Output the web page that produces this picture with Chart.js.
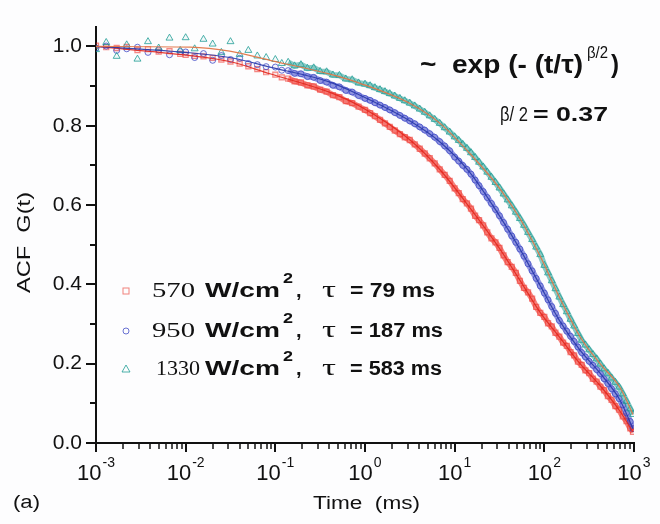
<!DOCTYPE html>
<html>
<head>
<meta charset="utf-8">
<title>ACF G(t)</title>
<script src="https://cdn.jsdelivr.net/npm/chart.js@4.4.0/dist/chart.umd.min.js"></script>
<style>
  html, body { margin: 0; padding: 0; background: #fdfdfe; }
  #wrap { width: 660px; height: 524px; position: relative; }
</style>
</head>
<body>
<div id="wrap"><canvas id="acf"></canvas></div>
<script>
// lag times (ms), shared by all three measurements
const lagTimes = [
  0.001, 0.0013, 0.0017, 0.0022, 0.0029, 0.0038, 0.005, 0.0066, 0.0087,
  0.010, 0.0126, 0.0158, 0.020, 0.025, 0.0316, 0.040, 0.050, 0.063, 0.079,
  0.10, 0.118, 0.139, 0.164, 0.193, 0.228, 0.268, 0.316, 0.373, 0.439, 0.518, 0.611, 0.720, 0.848,
  1.00, 1.14, 1.29, 1.47, 1.67, 1.89, 2.15, 2.45, 2.78, 3.16, 3.59, 4.08, 4.64, 5.27, 5.99, 6.81, 7.74, 8.80,
  10.0, 11.1, 12.3, 13.7, 15.2, 16.9, 18.7, 20.8, 23.1, 25.7, 28.5, 31.6, 35.1, 39.0, 43.3, 48.1, 53.4, 59.3, 65.8, 73.1, 81.1, 90.1,
  100, 110, 121, 133, 147, 162, 178, 196, 215, 237, 261, 287, 316, 348, 383, 422, 464, 511, 562, 619, 681, 750, 825, 908, 975
];

// G(t) at 570 W/cm2
const g570 = [
  1.002, 0.998, 0.996, 0.999, 0.991, 0.993, 0.987, 0.988, 0.981,
  0.979, 0.976, 0.975, 0.971, 0.967, 0.962, 0.957, 0.950, 0.943, 0.935,
  0.929, 0.922, 0.919, 0.912, 0.909, 0.902, 0.899, 0.891, 0.886, 0.877, 0.872, 0.862, 0.857, 0.848,
  0.840, 0.832, 0.824, 0.815, 0.806, 0.797, 0.788, 0.779, 0.771, 0.764, 0.753, 0.742, 0.730, 0.718, 0.705, 0.690, 0.676, 0.661,
  0.642, 0.630, 0.615, 0.604, 0.591, 0.573, 0.562, 0.549, 0.531, 0.516, 0.506, 0.492, 0.473, 0.456, 0.444, 0.429, 0.409, 0.391, 0.380, 0.364, 0.343, 0.328,
  0.318, 0.302, 0.294, 0.278, 0.268, 0.253, 0.245, 0.229, 0.221, 0.205, 0.197, 0.183, 0.176, 0.162, 0.155, 0.142, 0.133, 0.118, 0.109, 0.093, 0.084, 0.067, 0.055, 0.037, 0.028
];

// G(t) at 950 W/cm2
const g950 = [
  0.996, 1.001, 0.990, 0.994, 0.998, 0.985, 0.991, 0.979, 0.987,
  0.986, 0.972, 0.982, 0.965, 0.977, 0.967, 0.970, 0.957, 0.954, 0.949,
  0.948, 0.940, 0.939, 0.932, 0.931, 0.924, 0.922, 0.914, 0.910, 0.902, 0.898, 0.889, 0.885, 0.876,
  0.869, 0.864, 0.858, 0.852, 0.846, 0.840, 0.833, 0.826, 0.819, 0.812, 0.805, 0.797, 0.789, 0.780, 0.771, 0.760, 0.749, 0.737,
  0.721, 0.711, 0.700, 0.690, 0.678, 0.663, 0.649, 0.634, 0.619, 0.604, 0.589, 0.573, 0.556, 0.539, 0.522, 0.506, 0.489, 0.471, 0.452, 0.434, 0.415, 0.396,
  0.378, 0.361, 0.344, 0.327, 0.309, 0.295, 0.282, 0.269, 0.256, 0.242, 0.228, 0.217, 0.206, 0.196, 0.185, 0.175, 0.162, 0.150, 0.137, 0.124, 0.112, 0.096, 0.076, 0.054, 0.036
];

// G(t) at 1330 W/cm2
const g1330 = [
  0.992, 1.010, 0.975, 1.004, 0.968, 1.012, 0.996, 1.021, 0.990,
  1.022, 0.994, 1.018, 1.006, 0.985, 1.012, 0.980, 0.990, 0.976, 0.972,
  0.967, 0.957, 0.960, 0.951, 0.954, 0.945, 0.946, 0.937, 0.936, 0.928, 0.927, 0.918, 0.916, 0.908,
  0.905, 0.901, 0.896, 0.891, 0.886, 0.881, 0.875, 0.869, 0.863, 0.857, 0.850, 0.842, 0.834, 0.825, 0.816, 0.806, 0.795, 0.784,
  0.772, 0.763, 0.753, 0.743, 0.732, 0.720, 0.708, 0.696, 0.683, 0.670, 0.657, 0.643, 0.628, 0.613, 0.598, 0.582, 0.566, 0.549, 0.531, 0.513, 0.494, 0.475,
  0.448, 0.429, 0.409, 0.389, 0.368, 0.349, 0.331, 0.312, 0.295, 0.276, 0.259, 0.247, 0.235, 0.223, 0.212, 0.199, 0.187, 0.176, 0.164, 0.153, 0.141, 0.124, 0.105, 0.086, 0.072
];

// stretched-exponential fit curves
const fitTimes = [0.001, 0.0112, 0.031, 0.087, 0.407, 0.88, 3.18, 6.86, 14.8, 32, 53.5, 89.4, 150, 250, 418, 698, 975];
const fit570 = [1.0, 0.977, 0.962, 0.931, 0.884, 0.849, 0.764, 0.689, 0.593, 0.489, 0.410, 0.330, 0.265, 0.200, 0.145, 0.080, 0.027];
const fit950 = [1.0, 0.984, 0.972, 0.948, 0.910, 0.877, 0.812, 0.759, 0.682, 0.571, 0.489, 0.398, 0.306, 0.234, 0.176, 0.108, 0.036];
const fit1330 = [1.0, 0.998, 0.988, 0.965, 0.930, 0.907, 0.856, 0.806, 0.730, 0.641, 0.566, 0.472, 0.364, 0.268, 0.200, 0.140, 0.072];

// legend / axis text
const powerLabels = ['570', '950', '1330'];
const tauLabels = ['= 79 ms', '= 187 ms', '= 583 ms'];
const decadeExponents = [-3, -2, -1, 0, 1, 2, 3];
const yMajorTicks = [0, 0.2, 0.4, 0.6, 0.8, 1.0];

const SANS = '"Liberation Sans", Arial, sans-serif';
const SERIF = '"Liberation Serif", "Times New Roman", serif';
const INK = '#111';

const RED = 'rgba(236, 48, 40, 0.55)';
const BLUE = 'rgba(58, 68, 196, 0.75)';
const TEAL = 'rgba(32, 158, 150, 0.8)';

function pts(xs, ys) {
  return xs.map((x, i) => ({ x: x, y: ys[i] }));
}

// dense region of each series shows as a continuous band
function bandSegment(color) {
  return {
    borderColor: ctx => (lagTimes[ctx.p0DataIndex] < 0.12 ? 'rgba(0,0,0,0)' : color)
  };
}

// draws text stretched/squeezed to a given width
function fitText(ctx, str, x, y, w, font) {
  ctx.font = font;
  const m = ctx.measureText(str).width;
  ctx.save();
  ctx.translate(x, y);
  ctx.scale(w / m, 1);
  ctx.fillText(str, 0, 0);
  ctx.restore();
}

function tick(ctx, x1, y1, x2, y2) {
  ctx.beginPath();
  ctx.moveTo(x1, y1);
  ctx.lineTo(x2, y2);
  ctx.stroke();
}

const decorations = {
  id: 'decorations',
  afterDraw(chart) {
    const ctx = chart.ctx;
    const xs = chart.scales.x;
    const ys = chart.scales.y;
    const area = chart.chartArea;

    ctx.save();
    ctx.strokeStyle = INK;
    ctx.fillStyle = INK;
    ctx.lineWidth = 2;
    ctx.textAlign = 'left';
    ctx.textBaseline = 'alphabetic';

    // y ticks, major every 0.2 and minor in between
    for (let i = 0; i <= 10; i++) {
      const py = Math.round(ys.getPixelForValue(i / 10));
      const len = i % 2 === 0 ? 10 : 6;
      tick(ctx, area.left - len, py, area.left, py);
    }

    // x ticks, decades plus 2..9 minors
    decadeExponents.forEach((e, k) => {
      const base = Math.pow(10, e);
      const px = Math.round(xs.getPixelForValue(base));
      tick(ctx, px, area.bottom, px, area.bottom + 9);
      if (k < decadeExponents.length - 1) {
        ctx.lineWidth = 1.5;
        for (let m = 2; m <= 9; m++) {
          const mx = Math.round(xs.getPixelForValue(m * base));
          tick(ctx, mx, area.bottom, mx, area.bottom + 6);
        }
        ctx.lineWidth = 2;
      }
    });

    // x tick labels as 10 with a raised exponent
    decadeExponents.forEach(e => {
      const px = xs.getPixelForValue(Math.pow(10, e));
      const sup = String(e);
      ctx.font = '22px ' + SANS;
      const w1 = ctx.measureText('10').width;
      ctx.font = '14px ' + SANS;
      const w2 = ctx.measureText(sup).width;
      const x0 = px - (w1 + w2 + 1) / 2;
      ctx.font = '22px ' + SANS;
      ctx.fillText('10', x0, 480);
      ctx.font = '14px ' + SANS;
      ctx.fillText(sup, x0 + w1 + 1, 467);
    });

    // axis titles
    fitText(ctx, 'Time  (ms)', 313, 509, 107, '18px ' + SANS);
    fitText(ctx, '(a)', 13, 508, 27, '18px ' + SANS);
    ctx.save();
    ctx.translate(30, 293);
    ctx.rotate(-Math.PI / 2);
    fitText(ctx, 'ACF  G(t)', 0, 0, 101, '18px ' + SANS);
    ctx.restore();

    // fit formula
    fitText(ctx, '~  exp (- (t/\u03c4)', 420, 73, 163, 'bold 25px ' + SANS);
    fitText(ctx, '\u03b2/2', 587, 58, 21, '16px ' + SANS);
    fitText(ctx, ')', 611, 73, 8, 'bold 25px ' + SANS);
    fitText(ctx, '\u03b2/ 2', 500, 121, 28, '21px ' + SANS);
    fitText(ctx, '= 0.37', 533, 121, 75, 'bold 21px ' + SANS);

    // legend rows
    const rowY = [297, 337, 375];
    const tauW = [85, 93, 92];
    rowY.forEach((y, i) => {
      const my = y - 6;
      ctx.lineWidth = 1;
      if (i === 0) {
        ctx.strokeStyle = 'rgba(236, 90, 80, 0.75)';
        ctx.strokeRect(123, my - 3, 6, 6);
      } else if (i === 1) {
        ctx.strokeStyle = BLUE;
        ctx.beginPath();
        ctx.arc(126, my, 3, 0, Math.PI * 2);
        ctx.stroke();
      } else {
        ctx.strokeStyle = TEAL;
        ctx.beginPath();
        ctx.moveTo(126, my - 4);
        ctx.lineTo(130, my + 3);
        ctx.lineTo(122, my + 3);
        ctx.closePath();
        ctx.stroke();
      }
      const pw = powerLabels[i].length > 3 ? 44 : 43;
      const px = powerLabels[i].length > 3 ? 156 : 152;
      fitText(ctx, powerLabels[i], px, y, pw, '21px ' + SERIF);
      fitText(ctx, 'W/cm', 205, y, 75, 'bold 20px ' + SANS);
      fitText(ctx, '2', 283, y - 14, 10, 'bold 15px ' + SANS);
      ctx.font = 'bold 20px ' + SANS;
      ctx.fillText(',', 296, y);
      fitText(ctx, '\u03c4', 322, y, 14, '23px ' + SERIF);
      fitText(ctx, tauLabels[i], 350, y, tauW[i], 'bold 20px ' + SANS);
    });

    ctx.restore();
  }
};

new Chart(document.getElementById('acf'), {
  type: 'line',
  data: {
    datasets: [
      {
        label: 'fit 1330',
        data: pts(fitTimes, fit1330),
        borderColor: 'rgba(226, 118, 72, 0.95)',
        borderWidth: 1.2,
        pointRadius: 0,
        cubicInterpolationMode: 'monotone',
        fill: false
      },
      {
        label: 'fit 950',
        data: pts(fitTimes, fit950),
        borderColor: 'rgba(40, 56, 170, 0.9)',
        borderWidth: 1.2,
        pointRadius: 0,
        cubicInterpolationMode: 'monotone',
        fill: false
      },
      {
        label: 'fit 570',
        data: pts(fitTimes, fit570),
        borderColor: 'rgba(226, 40, 30, 0.9)',
        borderWidth: 1.2,
        pointRadius: 0,
        cubicInterpolationMode: 'monotone',
        fill: false
      },
      {
        label: '1330 W/cm2',
        data: pts(lagTimes, g1330),
        showLine: true,
        borderWidth: 6,
        segment: bandSegment('rgba(40, 160, 150, 0.55)'),
        pointStyle: 'triangle',
        pointRadius: 4,
        pointBorderWidth: 1,
        pointBorderColor: TEAL,
        pointBackgroundColor: 'rgba(32, 158, 150, 0.05)'
      },
      {
        label: '950 W/cm2',
        data: pts(lagTimes, g950),
        showLine: true,
        borderWidth: 6,
        segment: bandSegment('rgba(60, 70, 200, 0.55)'),
        pointStyle: 'circle',
        pointRadius: 3,
        pointBorderWidth: 1,
        pointBorderColor: BLUE,
        pointBackgroundColor: 'rgba(58, 68, 196, 0.05)'
      },
      {
        label: '570 W/cm2',
        data: pts(lagTimes, g570),
        showLine: true,
        borderWidth: 6,
        segment: bandSegment('rgba(240, 50, 40, 0.6)'),
        pointStyle: 'rect',
        pointRadius: 3.6,
        pointBorderWidth: 1.2,
        pointBorderColor: RED,
        pointBackgroundColor: 'rgba(236, 48, 40, 0.12)'
      }
    ]
  },
  options: {
    responsive: true,
    maintainAspectRatio: false,
    animation: false,
    events: [],
    layout: { padding: { top: 7, right: 26, left: 0, bottom: 0 } },
    plugins: {
      legend: { display: false },
      tooltip: { enabled: false }
    },
    scales: {
      x: {
        type: 'logarithmic',
        min: 0.001,
        max: 1000,
        grid: { display: false, drawTicks: false },
        border: { display: true, color: INK, width: 2 },
        ticks: { callback: () => '' },
        afterFit: s => { s.height = 81; }
      },
      y: {
        type: 'linear',
        min: 0,
        max: 1.05,
        grid: { display: false, drawTicks: false },
        border: { display: true, color: INK, width: 2 },
        ticks: {
          padding: 14,
          color: INK,
          font: { family: SANS, size: 21 },
          callback: v => v.toFixed(1)
        },
        afterBuildTicks: s => { s.ticks = yMajorTicks.map(v => ({ value: v })); },
        afterFit: s => { s.width = 96; }
      }
    }
  },
  plugins: [decorations]
});
</script>
</body>
</html>
